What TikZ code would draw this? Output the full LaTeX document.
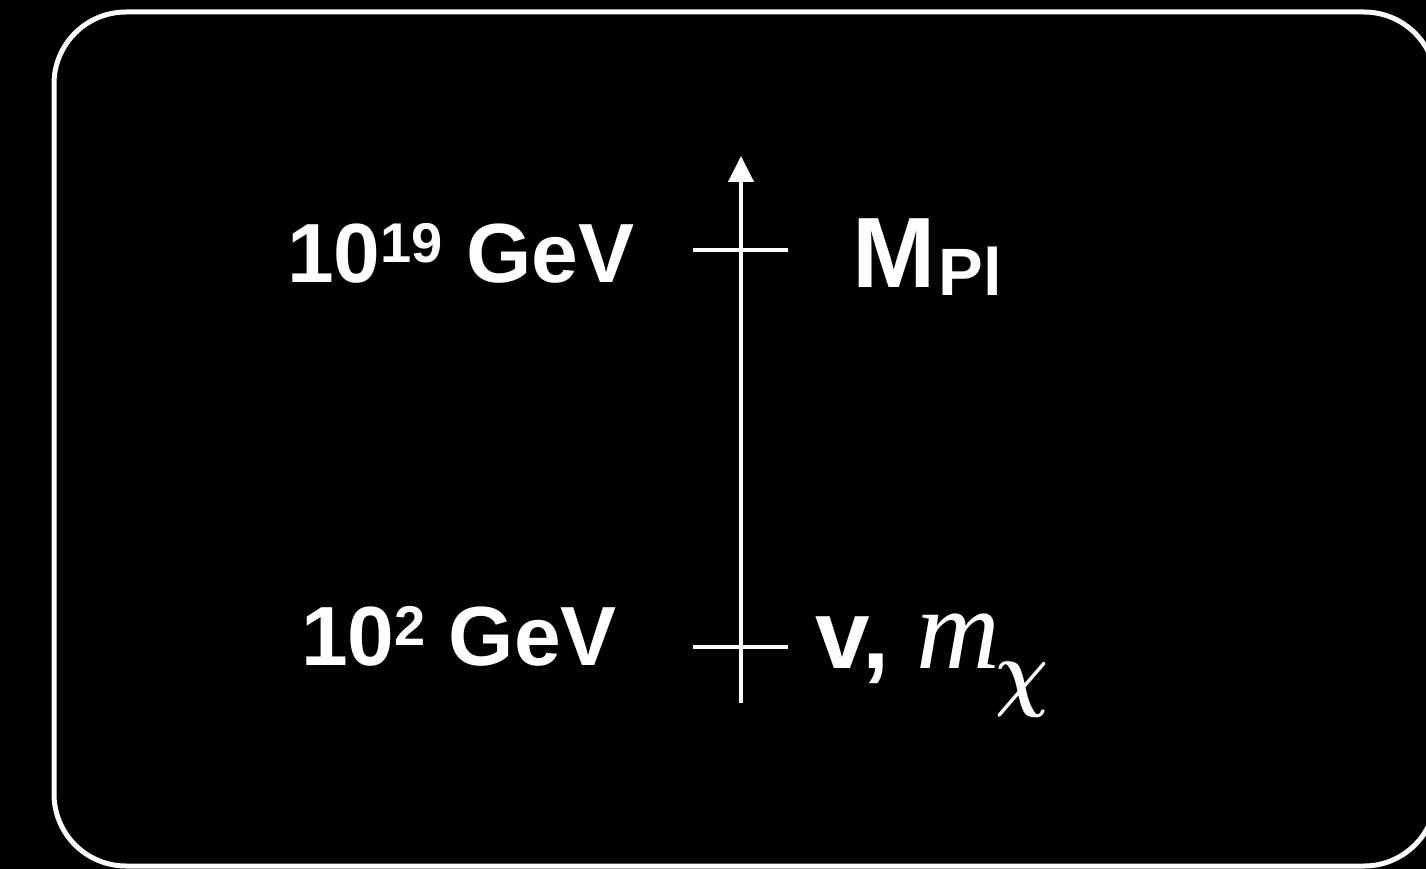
\documentclass[tikz,border=0pt]{standalone}
\usepackage{fontspec}
\usepackage{graphicx}
\setmainfont{Liberation Sans}
\newfontfamily\timesf{Liberation Serif}
\usetikzlibrary{arrows.meta}
\tikzset{
  frame/.style={draw=white,line width=5pt,rounded corners=72pt},
  axisline/.style={draw=white,line width=4.5pt,-{Triangle[width=25pt,length=26pt]}},
  tickline/.style={draw=white,line width=4.5pt},
  lbl/.style={text=white,anchor=base west,inner sep=0pt,outer sep=0pt,font=\bfseries}
}
\begin{document}
\begin{tikzpicture}[x=1pt,y=-1pt]
\fill[black] (0,0) rectangle (1426,869);
\useasboundingbox (0,0) rectangle (1426,869);
\draw[frame] (54,12) rectangle (1436,866);
% axis
\coordinate (ax0) at (741,703);
\coordinate (ax1) at (741,156);
\draw[axisline] (ax0) -- (ax1);
% ticks
\coordinate (t1l) at (693,250);
\coordinate (t1r) at (788,250);
\coordinate (t2l) at (693,647);
\coordinate (t2r) at (788,647);
\draw[tickline] (t1l) -- (t1r);
\draw[tickline] (t2l) -- (t2r);
% labels
\node[lbl] (lab19) at (287,282) {\fontsize{84}{100}\selectfont 10\raisebox{20pt}{\fontsize{56}{60}\selectfont 19} GeV};
\node[lbl] (lab2) at (301,665) {\fontsize{84}{100}\selectfont 10\raisebox{20pt}{\fontsize{56}{60}\selectfont 2} GeV};
\node[lbl] (mpl) at (852,287) {\fontsize{100}{110}\selectfont M\kern3pt\raisebox{-8pt}{\fontsize{67}{70}\selectfont Pl}};
\node[lbl] (vm) at (815,668) {\fontsize{98}{110}\selectfont v, {\timesf\itshape\mdseries\fontsize{116}{120}\selectfont m}\kern-5pt\raisebox{-32pt}{\scalebox{7.4}[8.6]{\normalsize\boldmath$\chi$}}};
\end{tikzpicture}
\end{document}
